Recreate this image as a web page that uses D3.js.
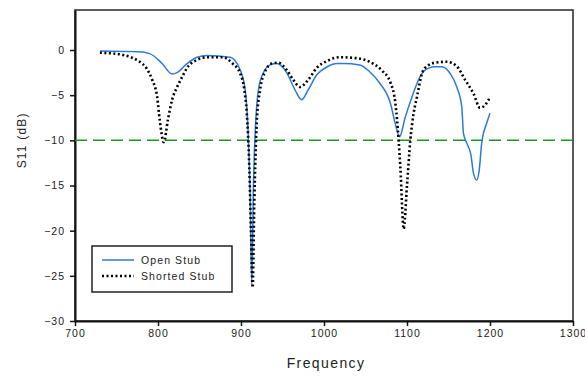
<!DOCTYPE html>
<html>
<head>
<meta charset="utf-8">
<script src="https://cdn.jsdelivr.net/npm/d3@7"></script>
<style>
  body { margin: 0; background: #fff; }
  text { font-family: "Liberation Sans", Arial, sans-serif; }
</style>
</head>
<body>
<div id="chart"></div>
<script>
// frequency (MHz) / S11 (dB)
const openFreq = [730, 776, 790, 805, 817, 823, 835, 847, 859, 887, 899, 905, 908, 911, 913, 915, 918, 921, 927, 935, 943, 955, 965, 973, 981, 991, 1004, 1016, 1023, 1043, 1055, 1067, 1080, 1086, 1091, 1098, 1106, 1112, 1118, 1126, 1134, 1142, 1152, 1160, 1166, 1168, 1172, 1177, 1180, 1184, 1187, 1190, 1196, 1200];
const openS11 = [-0.1, -0.2, -0.4, -1.5, -2.65, -2.5, -1.5, -0.8, -0.6, -0.8, -2.2, -4.4, -8, -16, -26, -15, -7.5, -4.4, -2.5, -1.65, -1.5, -2.5, -4.4, -5.5, -4.4, -2.8, -1.85, -1.5, -1.5, -1.65, -2.4, -3.65, -5.9, -8.2, -9.6, -7.4, -5.2, -3.7, -2.6, -2.0, -1.85, -1.85, -2.6, -4.1, -6.3, -9.2, -10.3, -11.6, -13.6, -14.4, -13.3, -10.3, -8.1, -7.0];

const shortFreq = [730, 742, 758, 770, 778, 786, 793, 799, 802, 807, 812, 817, 823, 829, 836, 847, 859, 878, 890, 899, 904, 907, 910, 912, 914, 916, 919, 923, 929, 937, 945, 955, 963, 971, 981, 991, 1004, 1019, 1039, 1055, 1069, 1080, 1086, 1088, 1092, 1096, 1100, 1104, 1108, 1112, 1118, 1124, 1134, 1148, 1160, 1170, 1180, 1188, 1194, 1199];
const shortS11 = [-0.3, -0.35, -0.55, -0.9, -1.3, -2.0, -3.3, -5.2, -7.7, -10.2, -7.7, -5.5, -4.1, -3.0, -1.85, -1.1, -0.8, -0.8, -1.5, -2.6, -4.4, -7, -13, -20, -26.3, -17, -8, -4.4, -2.4, -1.5, -1.4, -2.2, -3.3, -4.1, -3.3, -2.0, -1.2, -0.8, -0.9, -1.3, -2.2, -3.6, -5.9, -7.7, -13, -19.8, -15, -10, -7, -5.2, -2.6, -1.8, -1.4, -1.3, -1.8, -3.3, -4.8, -6.4, -6.1, -5.4];

const xTicks = [700, 800, 900, 1000, 1100, 1200, 1300];
const yTicks = [0, -5, -10, -15, -20, -25, -30];
const refLevel = -10;
const seriesNames = ['Open Stub', 'Shorted Stub'];

const width = 585;
const height = 376;
const margin = { top: 10, right: 12, bottom: 55, left: 75 };

const svg = d3.select('#chart')
  .append('svg')
  .attr('width', width)
  .attr('height', height);

const xScale = d3.scaleLinear()
  .domain([700, 1300])
  .range([margin.left, width - margin.right]);

const yScale = d3.scaleLinear()
  .domain([-30, 4.43])
  .range([height - margin.bottom, margin.top]);

// frame
svg.append('rect')
  .attr('x', margin.left)
  .attr('y', margin.top)
  .attr('width', xScale(1300) - margin.left)
  .attr('height', yScale(-30) - margin.top)
  .attr('fill', 'none')
  .attr('stroke', '#333')
  .attr('stroke-width', 1.6);

// axes
const xAxis = d3.axisBottom(xScale)
  .tickValues(xTicks)
  .tickFormat(d3.format('d'))
  .tickSize(5)
  .tickSizeOuter(0);

const yAxis = d3.axisLeft(yScale)
  .tickValues(yTicks)
  .tickFormat(d3.format('d'))
  .tickSize(5)
  .tickSizeOuter(0);

const xAxisG = svg.append('g')
  .attr('transform', `translate(0, ${yScale(-30)})`)
  .call(xAxis);

const yAxisG = svg.append('g')
  .attr('transform', `translate(${margin.left}, 0)`)
  .call(yAxis);

[xAxisG, yAxisG].forEach(g => {
  g.select('.domain').attr('stroke', '#111').attr('stroke-width', 2);
  g.selectAll('.tick line').attr('stroke', '#111').attr('stroke-width', 1.5);
  g.selectAll('.tick text')
    .attr('font-size', 10.5)
    .attr('letter-spacing', 1)
    .attr('fill', '#222');
});
xAxisG.selectAll('.tick text').attr('dy', '0.9em').attr('y', 7);
yAxisG.selectAll('.tick text').attr('x', -10);

// axis titles
svg.append('text')
  .attr('x', xScale(1000) + 2)
  .attr('y', 368)
  .attr('text-anchor', 'middle')
  .attr('font-size', 14)
  .attr('letter-spacing', 1.4)
  .attr('fill', '#222')
  .text('Frequency');

svg.append('text')
  .attr('transform', `translate(26, ${yScale(-10)}) rotate(-90)`)
  .attr('text-anchor', 'middle')
  .attr('font-size', 12)
  .attr('letter-spacing', 1.2)
  .attr('fill', '#222')
  .text('S11 (dB)');

// reference line
svg.append('line')
  .attr('x1', xScale(700))
  .attr('x2', xScale(1300))
  .attr('y1', yScale(refLevel))
  .attr('y2', yScale(refLevel))
  .attr('stroke', '#1e961e')
  .attr('stroke-width', 1.5)
  .attr('stroke-dasharray', '12,6');

const openData = openFreq.map((f, i) => ({ f: f, v: openS11[i] }));
const shortData = shortFreq.map((f, i) => ({ f: f, v: shortS11[i] }));

const line = d3.line()
  .x(d => xScale(d.f))
  .y(d => yScale(d.v))
  .curve(d3.curveMonotoneX);

svg.append('path')
  .attr('d', line(openData))
  .attr('fill', 'none')
  .attr('stroke', '#2b7bd8')
  .attr('stroke-width', 1.5);

svg.append('path')
  .attr('d', line(shortData))
  .attr('fill', 'none')
  .attr('stroke', '#000')
  .attr('stroke-width', 2.6)
  .attr('stroke-dasharray', '2,2.5');

// legend
const legend = svg.append('g');
legend.append('rect')
  .attr('x', 92)
  .attr('y', 246)
  .attr('width', 140)
  .attr('height', 46)
  .attr('fill', '#fff')
  .attr('stroke', '#222')
  .attr('stroke-width', 1.5);

const legendStyles = [
  { stroke: '#2b7bd8', width: 1.5, dash: null },
  { stroke: '#000', width: 2.6, dash: '2,2.5' }
];

seriesNames.forEach((name, i) => {
  const y = 260 + i * 16;
  legend.append('line')
    .attr('x1', 102)
    .attr('x2', 134)
    .attr('y1', y)
    .attr('y2', y)
    .attr('stroke', legendStyles[i].stroke)
    .attr('stroke-width', legendStyles[i].width)
    .attr('stroke-dasharray', legendStyles[i].dash);
  legend.append('text')
    .attr('x', 141)
    .attr('y', y + 4)
    .attr('font-size', 10.5)
    .attr('letter-spacing', 1.1)
    .attr('fill', '#222')
    .text(name);
});
</script>
</body>
</html>
